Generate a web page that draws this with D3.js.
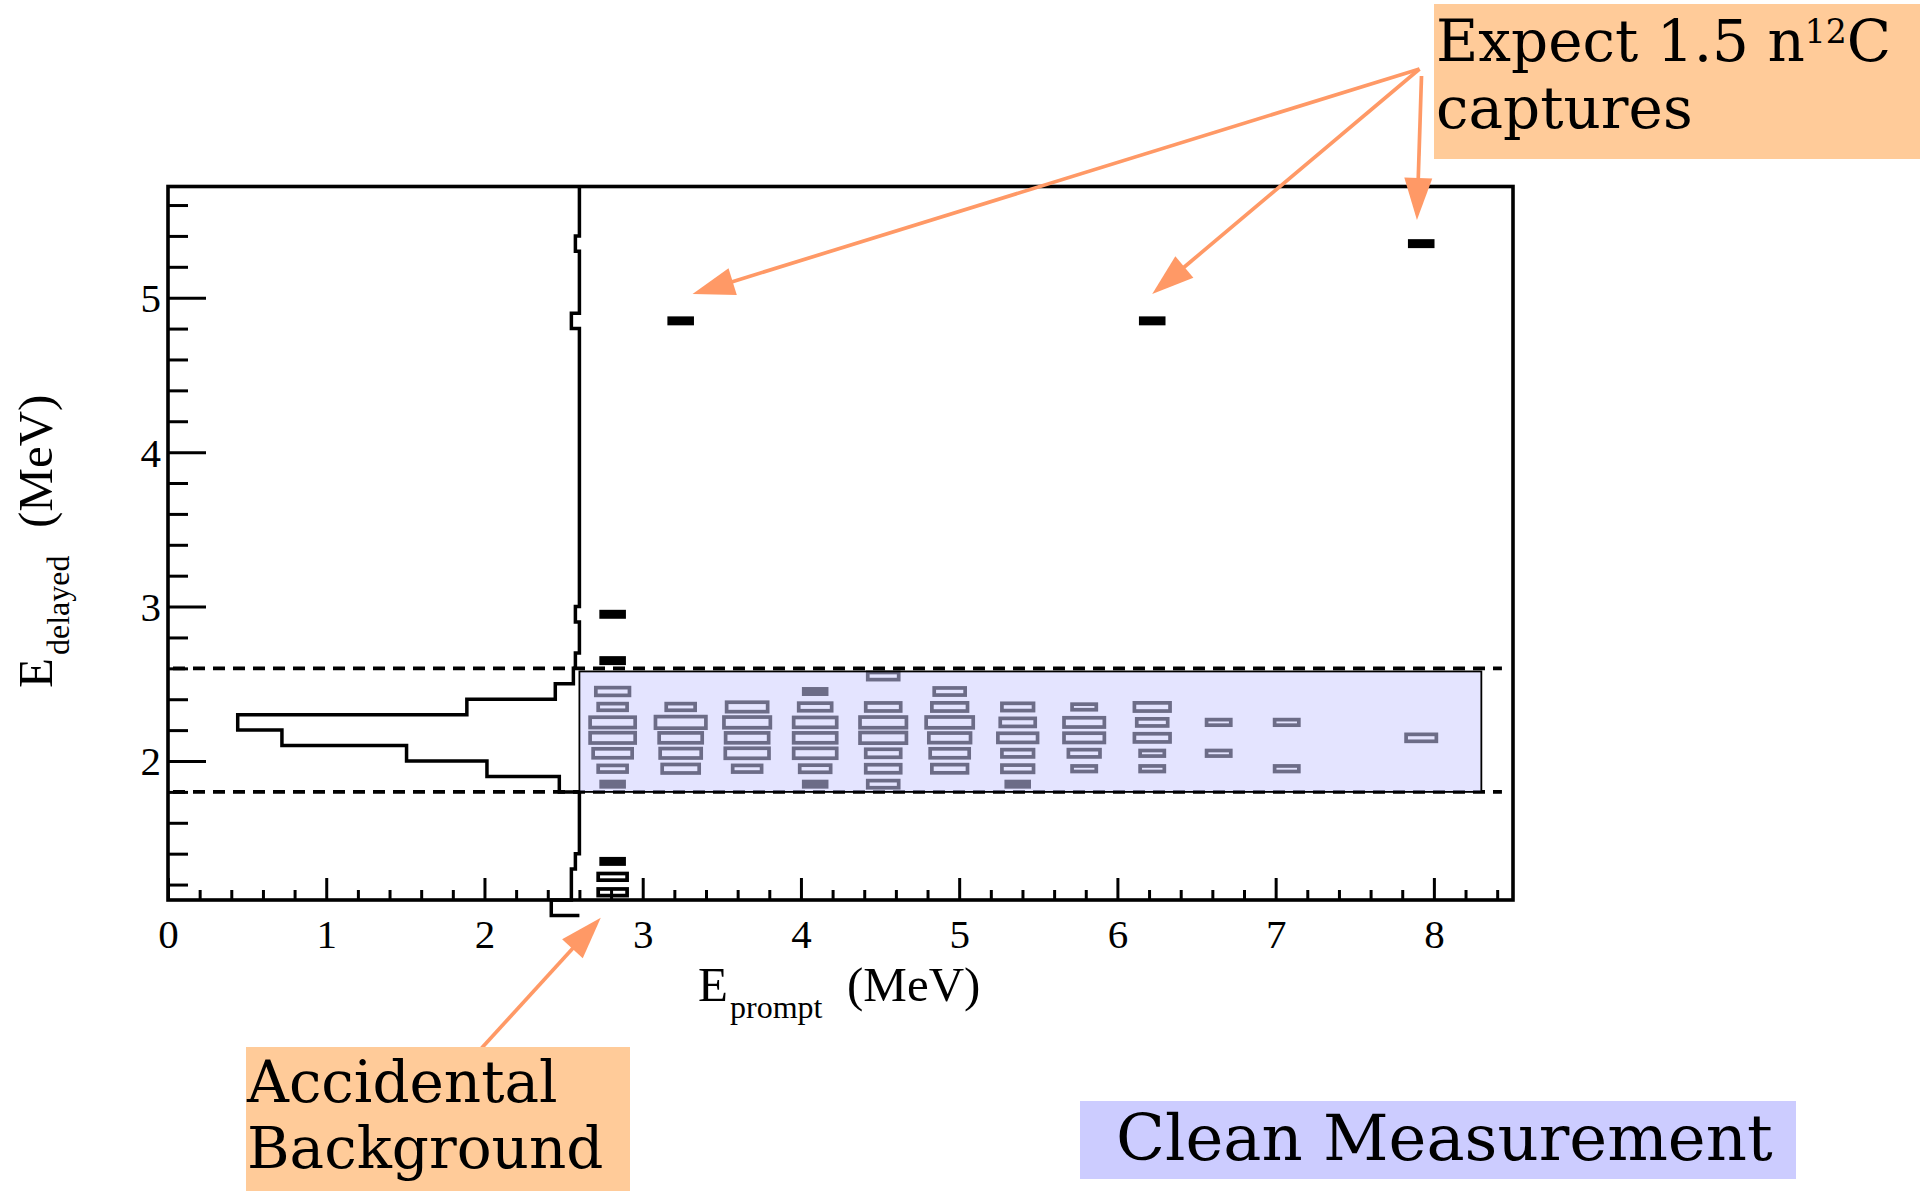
<!DOCTYPE html>
<html><head><meta charset="utf-8">
<script src="https://cdn.jsdelivr.net/npm/d3@7"></script>
<style>
html,body{margin:0;padding:0;background:#fff;}
svg{display:block;}
</style></head><body>
<svg id="chart" width="1922" height="1191"></svg>
<script>
// ---------------- data ----------------
const xTickValues = [0, 1, 2, 3, 4, 5, 6, 7, 8];
const yTickValues = [2, 3, 4, 5];
const xDomain = [0, 8.5];
const yDomain = [1.1, 5.72];

// delayed-energy selection window (dashed lines) and clean region
const delayedCut = [1.8, 2.6];
const cleanRegionX = [2.6, 8.3];
const cleanRegionY = [1.8, 2.58];

// 2D box histogram: prompt bin width / delayed bin width (MeV)
const promptBinWidth = 0.425;
const delayedBinWidth = 0.1;

// cells: [E_prompt centre, E_delayed centre, box size (% of bin)]
const cells = [
  // column 2.81
  [2.81, 2.45, 50], [2.81, 2.35, 43], [2.81, 2.25, 67], [2.81, 2.15, 67],
  [2.81, 2.05, 58], [2.81, 1.95, 43], [2.81, 1.85, 34],
  // column 3.24
  [3.24, 2.35, 43], [3.24, 2.25, 75], [3.24, 2.15, 64], [3.24, 2.05, 61], [3.24, 1.95, 55],
  // column 3.66
  [3.66, 2.35, 61], [3.66, 2.25, 69], [3.66, 2.15, 64], [3.66, 2.05, 65], [3.66, 1.95, 43],
  // column 4.09
  [4.09, 2.45, 34], [4.09, 2.35, 49], [4.09, 2.25, 64], [4.09, 2.15, 64],
  [4.09, 2.05, 64], [4.09, 1.95, 46], [4.09, 1.85, 34],
  // column 4.52
  [4.52, 2.55, 46], [4.52, 2.35, 52], [4.52, 2.25, 69], [4.52, 2.15, 69],
  [4.52, 2.05, 52], [4.52, 1.95, 52], [4.52, 1.85, 46],
  // column 4.94
  [4.94, 2.45, 46], [4.94, 2.35, 53], [4.94, 2.25, 70], [4.94, 2.15, 62],
  [4.94, 2.05, 58], [4.94, 1.95, 53],
  // column 5.37
  [5.37, 2.35, 47], [5.37, 2.25, 52], [5.37, 2.15, 59], [5.37, 2.05, 47],
  [5.37, 1.95, 47], [5.37, 1.85, 34],
  // column 5.79
  [5.79, 2.35, 36], [5.79, 2.25, 60], [5.79, 2.15, 60], [5.79, 2.05, 47], [5.79, 1.95, 36],
  // column 6.22
  [6.22, 2.35, 53], [6.22, 2.25, 46], [6.22, 2.15, 53], [6.22, 2.05, 36], [6.22, 1.95, 36],
  // columns 6.64, 7.07, 7.92
  [6.64, 2.25, 36], [6.64, 2.05, 36],
  [7.07, 2.25, 36], [7.07, 1.95, 36],
  [7.92, 2.15, 45],
  // outside the window
  [3.24, 4.85, 34], [6.22, 4.85, 34], [7.92, 5.35, 34],
  [2.81, 2.95, 34], [2.81, 2.65, 34], [2.81, 1.35, 34],
  [2.81, 1.25, 43], [2.81, 1.15, 43]
];

// projection of E_delayed (drawn leftwards from E_prompt = 2.6), bins of 0.1 MeV from 1.0
const projectionStart = 1.0;
const projectionBase = 2.6;
const projectionCounts = [
  7, 2, 2, 1, 0, 0, 0, 0, 5, 23,      // 1.0 - 1.9
  43, 74, 85, 28, 6, 1.5, 1, 0, 0, 1, // 2.0 - 2.9
  0, 0, 0, 0, 0, 0, 0, 0, 0, 0,       // 3.0 - 3.9
  0, 0, 0, 0, 0, 0, 0, 0, 2, 0,       // 4.0 - 4.9
  0, 0, 0, 1, 0, 0, 0                 // 5.0 - 5.6
];

// annotation texts
const noteCapture = ["Expect 1.5 n", "12", "C", "captures"];
const noteAccidental = ["Accidental", "Background"];
const noteClean = "Clean Measurement";

// ---------------- drawing ----------------
const svg = d3.select('#chart');
const AX_FONT = "'Liberation Serif', 'Times New Roman', serif";
const NOTE_FONT = "'DejaVu Serif', serif";

const x = d3.scaleLinear().domain(xDomain).range([168, 1513]);
const y = d3.scaleLinear().domain(yDomain).range([900, 186.5]);
const sizeScale = d3.scaleLinear().domain([0, 100]).range([0, 1]);
const projX = d3.scaleLinear().domain([0, 100]).range([x(projectionBase), x(projectionBase) - 402]);

// dashed selection lines
svg.append('g').selectAll('line').data(delayedCut).join('line')
  .attr('x1', x(0)).attr('x2', x(8.43))
  .attr('y1', d => y(d)).attr('y2', d => y(d))
  .attr('stroke', '#000').attr('stroke-width', 3.6)
  .attr('stroke-dasharray', '12,8').attr('stroke-dashoffset', -5);

// projection histogram (step outline)
const projPts = [{c: 0, e: projectionStart}];
projectionCounts.forEach((c, i) => {
  const lo = projectionStart + i * delayedBinWidth;
  projPts.push({c, e: lo});
  projPts.push({c, e: lo + delayedBinWidth});
});
projPts.push({c: 0, e: projectionStart + projectionCounts.length * delayedBinWidth});
projPts.push({c: 0, e: yDomain[1]});
svg.append('path')
  .attr('d', d3.line().x(d => projX(d.c)).y(d => y(d.e))(projPts))
  .attr('fill', 'none').attr('stroke', '#000').attr('stroke-width', 3.5)
  .attr('stroke-linejoin', 'miter');

// 2D boxes
const binPxW = x(promptBinWidth) - x(0);
const binPxH = y(yDomain[0]) - y(yDomain[0] + delayedBinWidth);
svg.append('g').selectAll('rect').data(cells).join('rect')
  .attr('x', d => x(d[0]) - binPxW * sizeScale(d[2]) / 2)
  .attr('y', d => y(d[1]) - binPxH * sizeScale(d[2]) / 2)
  .attr('width', d => binPxW * sizeScale(d[2]))
  .attr('height', d => binPxH * sizeScale(d[2]))
  .attr('fill', d => d[2] < 35 ? '#000' : 'none')
  .attr('stroke', '#000').attr('stroke-width', 3.7);

// clean measurement region overlay
svg.append('rect')
  .attr('x', x(cleanRegionX[0])).attr('y', y(cleanRegionY[1]))
  .attr('width', x(cleanRegionX[1]) - x(cleanRegionX[0]))
  .attr('height', y(cleanRegionY[0]) - y(cleanRegionY[1]))
  .attr('fill', '#ccccff').attr('fill-opacity', 0.53)
  .attr('stroke', '#000').attr('stroke-width', 1.8);

// axes
const gx = svg.append('g').attr('transform', `translate(0,${y(yDomain[0])})`);
gx.call(d3.axisBottom(x).tickValues(xTickValues).tickSize(-22).tickPadding(19).tickFormat(d3.format('d')));
const gxm = svg.append('g').attr('transform', `translate(0,${y(yDomain[0])})`);
gxm.call(d3.axisBottom(x).tickValues(x.ticks(42).filter(d => Math.abs(d - Math.round(d)) > 1e-6)).tickSize(-10).tickFormat(''));
const gy = svg.append('g').attr('transform', `translate(${x(0)},0)`);
gy.call(d3.axisLeft(y).tickValues(yTickValues).tickSize(-38).tickPadding(7).tickFormat(d3.format('d')));
const gym = svg.append('g').attr('transform', `translate(${x(0)},0)`);
gym.call(d3.axisLeft(y).tickValues(y.ticks(23).filter(d => Math.abs(d - Math.round(d)) > 1e-6)).tickSize(-20).tickFormat(''));
[gx, gxm, gy, gym].forEach(g => {
  g.select('.domain').remove();
  g.attr('font-family', AX_FONT).attr('font-size', 41);
  g.selectAll('line').attr('stroke', '#000').attr('stroke-width', 3);
  g.selectAll('text').attr('fill', '#000');
});
gy.selectAll('text').attr('dy', '0.34em');

// frame
svg.append('rect')
  .attr('x', x(xDomain[0])).attr('y', y(yDomain[1]))
  .attr('width', x(xDomain[1]) - x(xDomain[0]))
  .attr('height', y(yDomain[0]) - y(yDomain[1]))
  .attr('fill', 'none').attr('stroke', '#000').attr('stroke-width', 3.6);

// axis titles
const xt = svg.append('text').attr('font-family', AX_FONT).attr('font-size', 49).attr('fill', '#000')
  .attr('y', 1000.7);
xt.append('tspan').attr('x', 698).text('E');
xt.append('tspan').attr('x', 730).attr('dy', 17).attr('font-size', 32).text('prompt');
xt.append('tspan').attr('x', 847).attr('dy', -17).text('(MeV)');

const yt = svg.append('text').attr('font-family', AX_FONT).attr('font-size', 49).attr('fill', '#000')
  .attr('transform', 'translate(52,0) rotate(-90)').attr('y', 0);
yt.append('tspan').attr('x', -688).text('E');
yt.append('tspan').attr('x', -655).attr('dy', 17).attr('font-size', 32).text('delayed');
yt.append('tspan').attr('x', -528).attr('dy', -17).text('(MeV)');

// ---------------- annotations ----------------
const ORANGE = '#ff9966';
function arrow(x1, y1, x2, y2) {
  const L = 42, Wd = 28;
  const dx = x2 - x1, dy = y2 - y1, len = Math.hypot(dx, dy);
  const ux = dx / len, uy = dy / len;
  const bx = x2 - ux * L, by = y2 - uy * L;
  svg.append('line').attr('x1', x1).attr('y1', y1).attr('x2', bx + ux * 2).attr('y2', by + uy * 2)
    .attr('stroke', ORANGE).attr('stroke-width', 3.7);
  svg.append('path')
    .attr('d', `M${x2},${y2}L${bx - uy * Wd / 2},${by + ux * Wd / 2}L${bx + uy * Wd / 2},${by - ux * Wd / 2}Z`)
    .attr('fill', ORANGE);
}
// arrows pointing at the capture events / accidental events (tips in data coordinates)
arrow(1419.5, 69, x(3.315), y(5.024));
arrow(1419.5, 69, x(6.22), y(5.024));
arrow(1421.5, 76, x(7.893), y(5.503));
arrow(481.7, 1048, x(2.735), y(0.985));

// peach label: capture
svg.append('rect').attr('x', 1434).attr('y', 4).attr('width', 486).attr('height', 155).attr('fill', '#ffcb99');
const t1 = svg.append('text').attr('font-family', NOTE_FONT).attr('font-size', 58).attr('fill', '#000')
  .attr('x', 1436).attr('y', 61);
t1.append('tspan').text(noteCapture[0]);
t1.append('tspan').attr('font-size', 33).attr('dy', -18).text(noteCapture[1]);
t1.append('tspan').attr('dy', 18).text(noteCapture[2]);
svg.append('text').attr('font-family', NOTE_FONT).attr('font-size', 58).attr('fill', '#000')
  .attr('x', 1436).attr('y', 127.5).text(noteCapture[3]);

// peach label: accidental background
svg.append('rect').attr('x', 246).attr('y', 1047).attr('width', 384).attr('height', 144).attr('fill', '#ffcb99');
svg.append('g').selectAll('text').data(noteAccidental).join('text')
  .attr('font-family', NOTE_FONT).attr('font-size', 58).attr('fill', '#000')
  .attr('x', 247).attr('y', (d, i) => 1101.7 + i * 66.3).text(d => d);

// lavender label: clean measurement
svg.append('rect').attr('x', 1080).attr('y', 1101).attr('width', 716).attr('height', 78).attr('fill', '#ccccff');
svg.append('text').attr('font-family', NOTE_FONT).attr('font-size', 64).attr('fill', '#000')
  .attr('x', 1116).attr('y', 1160).text(noteClean);
</script>
</body></html>
